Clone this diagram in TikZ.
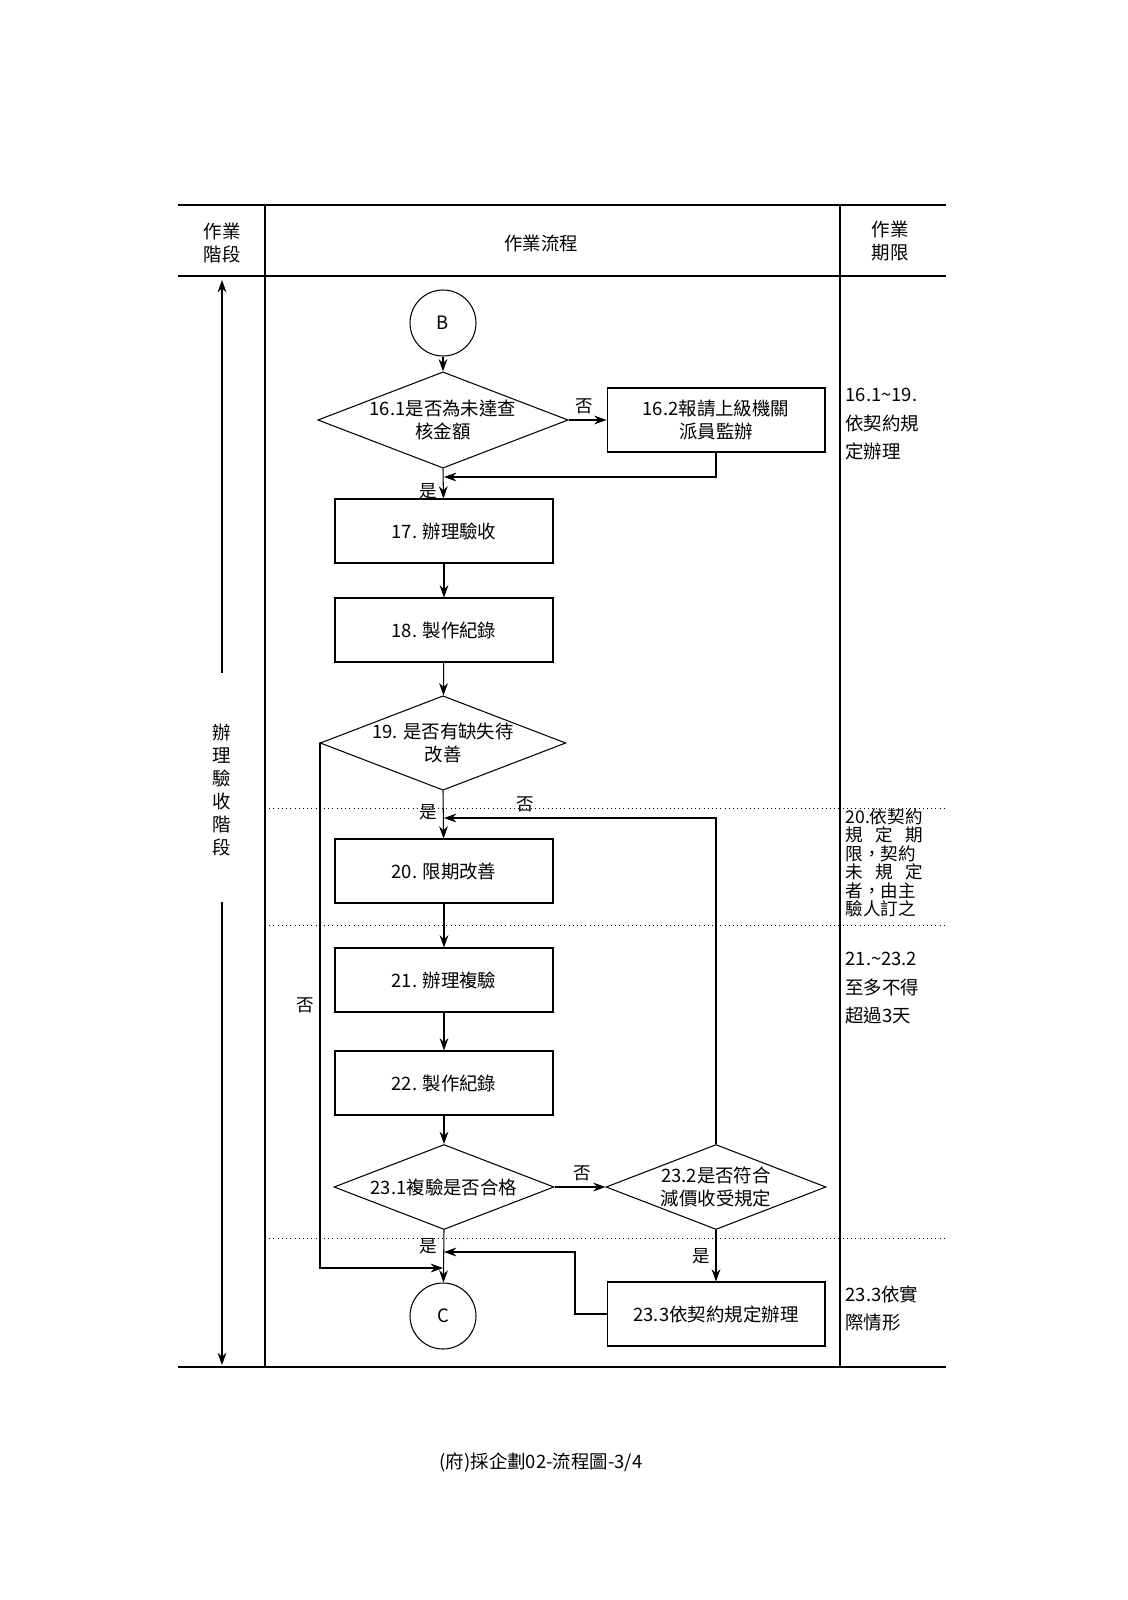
\documentclass[tikz,border=0pt]{standalone}
\usepackage{fontspec}
\setmainfont{Noto Sans CJK TC}
\usetikzlibrary{shapes.geometric,arrows.meta}
\tikzstyle{proc}=[draw,minimum width=4.36cm,minimum height=1.28cm,align=center,inner sep=1pt]
\tikzstyle{dec}=[draw,diamond,aspect=2.6,minimum width=4.4cm,minimum height=1.7cm,align=center,inner sep=0pt]
\tikzstyle{conn}=[draw,circle,minimum size=1.32cm]
\tikzstyle{flow}=[-{Stealth[length=7pt,width=5pt]}]
\tikzstyle{sep}=[dotted,thin]
\tikzstyle{lab}=[font=\fontsize{10}{12}\selectfont]
\begin{document}
\begin{tikzpicture}[x=0.02cm,y=-0.02cm,font=\fontsize{10.5}{13}\selectfont,line width=0.6pt]
\useasboundingbox (0,0) rectangle (1128,1600);
% table frame
\draw (178,205) -- (946,205);
\draw (178,276) -- (946,276);
\draw (178,1367) -- (946,1367);
\draw (265,205) -- (265,1367);
\draw (840,205) -- (840,1367);
\foreach \y in {808,925,1238}
    \draw[sep] (265,\y) -- (946,\y);
\node[align=center] (hstage) at (222,243) {作業\\階段};
\node (hflow) at (541,243) {作業流程};
\node[align=center] (hlimit) at (890,241) {作業\\期限};
% stage column
\node[align=center] (stage) at (222,790) {辦\\理\\驗\\收\\階\\段};
\coordinate (stop) at (222,280);
\coordinate (sbot) at (222,1365);
\draw[flow] (stage.north) ++(0,-45) -- (stop);
\draw[flow] (stage.south) ++(0,40) -- (sbot);
% flow nodes
\node[conn] (B) at (443,323) {B};
\node[dec] (d161) at (443,420) {16.1是否為未達查\\核金額};
\node[proc,minimum width=4.36cm] (r162) at (716,420) {16.2報請上級機關\\派員監辦};
\node[proc] (r17) at (444,531) {17. 辦理驗收};
\node[proc] (r18) at (444,630) {18. 製作紀錄};
\node[dec] (d19) at (443,743) {19. 是否有缺失待\\改善};
\node[proc] (r20) at (444,871) {20. 限期改善};
\node[proc] (r21) at (444,980) {21. 辦理複驗};
\node[proc] (r22) at (444,1083) {22. 製作紀錄};
\node[dec] (d231) at (444,1187) {23.1複驗是否合格};
\node[dec] (d232) at (716,1187) {23.2是否符合\\減價收受規定};
\node[conn] (C) at (443,1316) {C};
\node[proc] (r233) at (716,1314) {23.3依契約規定辦理};
% connectors
\draw[flow] (B) -- (d161);
\draw[flow] (d161) -- node[lab,above,pos=0.4] {否} (r162);
\draw[flow] (r162.south) |- (444,477);
\draw[flow] (d161.south) -- node[lab,left,pos=0.75] {是} (r17);
\draw[flow] (r17) -- (r18);
\draw[flow] (r18) -- (d19);
\draw[flow] (d19.south) -- node[lab,left,pos=0.45] {是} (r20);
\draw[flow] (d19.west) -- (320,743) -- node[lab,left] {否} (320,1268) -- (443,1268);
\draw[flow] (d232.north) |- node[lab,above,pos=0.85] {否} (444,818);
\draw[flow] (r20) -- (r21);
\draw[flow] (r21) -- (r22);
\draw[flow] (r22) -- (d231);
\draw[flow] (d231) -- node[lab,above,pos=0.55] {否} (d232);
\draw[flow] (d231.south) -- node[lab,left,pos=0.3] {是} (C);
\draw[flow] (d232.south) -- node[lab,left] {是} (r233);
\draw[flow] (r233.west) -- (575,1314) -- (575,1252) -- (444,1252);
% limit column
\node[anchor=north west,align=left,inner sep=0pt] (lim1) at (845,388) {16.1\textasciitilde19.\\[3pt]依契約規\\[3pt]定辦理};
\node[anchor=north west,align=left,inner sep=0pt,font=\fontsize{10}{10.5}\selectfont] (lim2) at (845,808) {20.依契約\\規\hfill 定\hfill 期\\限，契約\\未\hfill 規\hfill 定\\者，由主\\驗人訂之};
\node[anchor=north west,align=left,inner sep=0pt] (lim3) at (845,952) {21.\textasciitilde23.2\\[3pt]至多不得\\[3pt]超過3天};
\node[anchor=north west,align=left,inner sep=0pt] (lim4) at (845,1285) {23.3依實\\[3pt]際情形};
\node (foot) at (541,1462) {(府)採企劃02-流程圖-3/4};
\end{tikzpicture}
\end{document}
